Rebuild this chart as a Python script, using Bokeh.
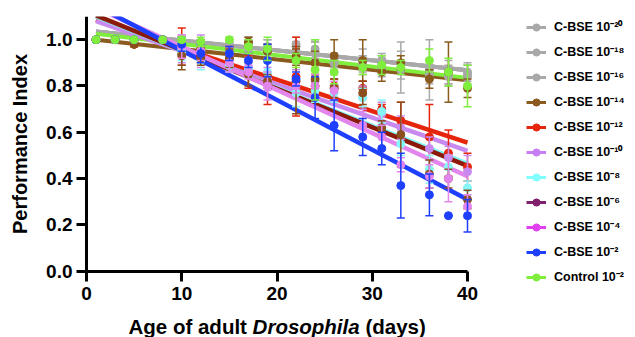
import numpy as np
from bokeh.plotting import figure
from bokeh.models import (ColumnDataSource, Legend, LegendItem, FixedTicker,
                          PrintfTickFormatter, Label, Range1d)
from bokeh.embed import file_html
from bokeh.resources import INLINE

# ---------------- data ----------------
days = [1, 3, 5, 8, 10, 12, 15, 17, 19, 22, 24, 26, 29, 31, 33, 36, 38, 40]
x_ticks = [0, 10, 20, 30, 40]
y_ticks = [0.0, 0.2, 0.4, 0.6, 0.8, 1.0]
fit_days = [1, 40]

labels = ["C-BSE 10\u207b\u00b2\u2070", "C-BSE 10\u207b\u00b9\u2078", "C-BSE 10\u207b\u00b9\u2076",
          "C-BSE 10\u207b\u00b9\u2074", "C-BSE 10\u207b\u00b9\u00b2", "C-BSE 10\u207b\u00b9\u2070",
          "C-BSE 10\u207b\u2078", "C-BSE 10\u207b\u2076", "C-BSE 10\u207b\u2074",
          "C-BSE 10\u207b\u00b2", "Control 10\u207b\u00b2"]

pi_m20 = [1.0, 1.0, 1.0, 1.0, 0.99, 0.98, 0.97, 0.98, 0.95, 0.98, 0.96, 0.90, 0.91, 0.90, 0.88, 0.87, 0.84, 0.85]
err_m20 = [0, 0, 0, 0, 0.02, 0.02, 0.02, 0.03, 0.03, 0.03, 0.04, 0.04, 0.05, 0.03, 0.11, 0.13, 0.04, 0.04]
pi_m18 = [1.0, 1.0, 1.0, 1.0, 0.98, 0.97, 0.98, 0.96, 0.96, 0.97, 0.94, 0.91, 0.89, 0.91, 0.90, 0.85, 0.86, 0.86]
err_m18 = [0, 0, 0, 0, 0.02, 0.03, 0.02, 0.03, 0.04, 0.02, 0.05, 0.03, 0.04, 0.03, 0.05, 0.04, 0.05, 0.04]
pi_m16 = [1.0, 1.0, 1.0, 1.0, 0.99, 0.98, 0.96, 0.99, 0.97, 0.95, 0.95, 0.90, 0.90, 0.88, 0.87, 0.88, 0.85, 0.84]
err_m16 = [0, 0, 0, 0, 0.02, 0.02, 0.03, 0.02, 0.03, 0.04, 0.04, 0.03, 0.03, 0.04, 0.04, 0.03, 0.04, 0.05]
pi_m14 = [1.0, 1.0, 0.98, 1.0, 0.94, 0.96, 0.92, 0.99, 0.95, 0.93, 0.90, 0.93, 0.91, 0.86, 0.90, 0.83, 0.86, 0.79]
err_m14 = [0, 0, 0.01, 0, 0.07, 0.04, 0.03, 0.02, 0.03, 0.04, 0.05, 0.07, 0.09, 0.04, 0.03, 0.04, 0.13, 0.04]
pi_m12 = [1.0, 1.0, 0.98, 1.0, 0.97, 0.93, 0.93, 0.86, 0.84, 0.84, 0.80, 0.80, 0.79, 0.70, 0.65, 0.58, 0.51, 0.45]
err_m12 = [0, 0, 0.01, 0, 0.08, 0.03, 0.04, 0.07, 0.12, 0.17, 0.05, 0.03, 0.03, 0.02, 0.08, 0.14, 0.10, 0.06]
pi_m10 = [1.0, 1.0, 1.0, 1.0, 0.96, 0.95, 0.93, 0.88, 0.83, 0.82, 0.82, 0.79, 0.75, 0.68, 0.62, 0.53, 0.49, 0.43]
err_m10 = [0, 0, 0, 0, 0.06, 0.07, 0.03, 0.04, 0.05, 0.05, 0.06, 0.06, 0.05, 0.05, 0.05, 0.05, 0.05, 0.07]
pi_m8 = [1.0, 1.0, 1.0, 1.0, 0.95, 0.91, 0.89, 0.87, 0.86, 0.77, 0.78, 0.77, 0.75, 0.69, 0.55, 0.44, 0.45, 0.36]
err_m8 = [0, 0, 0, 0, 0.04, 0.04, 0.03, 0.03, 0.04, 0.06, 0.05, 0.04, 0.04, 0.05, 0.05, 0.06, 0.05, 0.03]
pi_m6 = [1.0, 1.0, 0.98, 1.0, 0.93, 0.92, 0.92, 0.85, 0.82, 0.82, 0.83, 0.79, 0.77, 0.62, 0.59, 0.42, 0.40, 0.31]
err_m6 = [0, 0, 0.01, 0, 0.04, 0.03, 0.04, 0.05, 0.03, 0.14, 0.04, 0.04, 0.05, 0.03, 0.14, 0.06, 0.04, 0.04]
pi_m4 = [1.0, 1.0, 1.0, 1.0, 0.97, 0.95, 0.90, 0.86, 0.80, 0.80, 0.80, 0.78, 0.63, 0.58, 0.46, 0.41, 0.40, 0.28]
err_m4 = [0, 0, 0, 0, 0.05, 0.04, 0.04, 0.03, 0.06, 0.03, 0.05, 0.04, 0.06, 0.05, 0.03, 0.05, 0.10, 0.05]
pi_m2 = [1.0, 1.0, 1.0, 1.0, 0.98, 0.94, 0.94, 0.91, 0.91, 0.83, 0.75, 0.63, 0.58, 0.53, 0.37, 0.33, 0.24, 0.24]
err_m2 = [0, 0, 0, 0, 0.03, 0.04, 0.03, 0.03, 0.07, 0.03, 0.09, 0.11, 0.08, 0.07, 0.14, 0.09, 0.0, 0.07]
pi_ctrl = [1.0, 1.0, 1.0, 1.0, 1.0, 0.99, 1.0, 0.97, 0.96, 0.91, 0.87, 0.86, 0.88, 0.89, 0.88, 0.91, 0.86, 0.80]
err_ctrl = [0, 0, 0, 0, 0.01, 0.02, 0.01, 0.03, 0.05, 0.03, 0.13, 0.05, 0.03, 0.04, 0.03, 0.05, 0.06, 0.09]

# linear-fit line values at day 1 and day 40
fit_start = [1.035, 1.035, 1.035, 1.0, 1.085, 1.08, 1.10, 1.105, 1.137, 1.147, 1.025]
fit_end = [0.868, 0.868, 0.868, 0.825, 0.555, 0.52, 0.465, 0.455, 0.41, 0.31, 0.835]

values = [pi_m20, pi_m18, pi_m16, pi_m14, pi_m12, pi_m10, pi_m8, pi_m6, pi_m4, pi_m2, pi_ctrl]
errors = [err_m20, err_m18, err_m16, err_m14, err_m12, err_m10, err_m8, err_m6, err_m4, err_m2, err_ctrl]

# ---------------- styles ----------------
point_colors = ["#A9A9A9", "#A9A9A9", "#A9A9A9", "#8B5A1E", "#E5260C", "#C98AF0", "#86F7F7",
                "#8B4E1C", "#E285EC", "#1F3FFF", "#80EE3C"]
line_colors = ["#A9A9A9", "#A9A9A9", "#A9A9A9", "#8B5A1E", "#E5260C", "#C98AF0", "#86F7F7",
               "#8B1A0A", "#E285EC", "#1F3FFF", "#80EE3C"]
legend_colors = ["#A9A9A9", "#A9A9A9", "#A9A9A9", "#8B5A1E", "#E5260C", "#C77DF3", "#80FFFF",
                 "#7F1F6E", "#E040F0", "#1F3FFF", "#80EE3C"]
line_order = [0, 1, 2, 3, 10, 4, 5, 6, 7, 8, 9]
FONT = "Liberation Sans"

W, H = 635, 337
AXIS_X, TOP = 86, 16
PX_PER_DAY = 9.525
PX_PER_PI = 231.6
x_start = -AXIS_X / PX_PER_DAY
x_end = (W - AXIS_X) / PX_PER_DAY
y_start = 1.1 - (H - TOP) / PX_PER_PI

p = figure(width=W, height=H, output_backend="svg", toolbar_location=None,
           x_range=Range1d(x_start, x_end), y_range=Range1d(y_start, 1.1),
           min_border_left=0, min_border_right=0, min_border_top=TOP, min_border_bottom=0)
p.outline_line_color = None
p.grid.visible = False
p.background_fill_color = "white"
p.border_fill_color = "white"

# regression lines
for i in line_order:
    src = ColumnDataSource(dict(x=fit_days, y=[fit_start[i], fit_end[i]]))
    lw = 4.5 if i in (4, 5, 6, 7, 8, 9) else 4
    p.line("x", "y", source=src, line_color=line_colors[i], line_width=lw)

# error bars and points
for i in range(len(values)):
    v = np.array(values[i])
    e = np.array(errors[i])
    src = ColumnDataSource(dict(x=days, y=v, lo=v - e, hi=v + e))
    c = point_colors[i]
    p.segment(x0="x", y0="lo", x1="x", y1="hi", source=src, line_color=c, line_width=1.5)
    p.scatter("x", "hi", source=src, marker="dash", size=8, line_color=c, line_width=1.5)
    p.scatter("x", "lo", source=src, marker="dash", size=8, line_color=c, line_width=1.5)
    p.scatter("x", "y", source=src, marker="circle", size=8, fill_color=c, line_color=c)

# legend-only renderers
items = []
for i, lab in enumerate(labels):
    src = ColumnDataSource(dict(x=[np.nan], y=[np.nan]))
    lr = p.line("x", "y", source=src, line_color=legend_colors[i], line_width=3)
    sr = p.scatter("x", "y", source=src, marker="circle", fill_color=legend_colors[i],
                   line_color=legend_colors[i])
    items.append(LegendItem(label=lab, renderers=[lr, sr]))

legend = Legend(items=items, location=(526, 51.3), orientation="vertical",
                glyph_width=20, glyph_height=18, label_height=18, spacing=7,
                padding=0, margin=0, label_standoff=8,
                border_line_alpha=0, background_fill_alpha=0,
                label_text_font=FONT, label_text_font_style="bold",
                label_text_font_size="12.5px", label_text_color="black")
p.add_layout(legend)

# axes (pinned at the origin)
for ax in (p.xaxis[0], p.yaxis[0]):
    ax.fixed_location = 0
    ax.axis_line_width = 3
    ax.axis_line_color = "black"
    ax.major_tick_line_width = 3
    ax.major_tick_line_color = "black"
    ax.major_tick_out = 10
    ax.major_tick_in = 0
    ax.minor_tick_line_color = None
    ax.major_label_text_font = FONT
    ax.major_label_text_font_style = "bold"
    ax.major_label_text_font_size = "19px"
    ax.major_label_text_color = "black"

p.xaxis.ticker = FixedTicker(ticks=x_ticks)
p.xaxis.bounds = (0, 40)
p.xaxis.major_label_standoff = 6
p.yaxis.ticker = FixedTicker(ticks=y_ticks)
p.yaxis.formatter = PrintfTickFormatter(format="%.1f")
p.yaxis.bounds = (0, 1.1)
p.yaxis.major_label_standoff = 4
p.yaxis.axis_label = "Performance Index"
p.yaxis.axis_label_text_font = FONT
p.yaxis.axis_label_text_font_style = "bold"
p.yaxis.axis_label_text_font_size = "20px"
p.yaxis.axis_label_text_color = "black"
p.yaxis.axis_label_standoff = 12

# x-axis title with italic genus name
xparts = [("Age of adult", "bold", 128), ("Drosophila", "bold italic", 252.1), ("(days)", "bold", 364.9)]
for txt, style, xs in xparts:
    p.add_layout(Label(x=xs, y=11, x_units="screen", y_units="screen", text=txt,
                       text_font=FONT, text_font_style=style, text_font_size="20.5px",
                       text_baseline="alphabetic", text_color="black"))

open("out.html", "w").write(file_html(p, INLINE))
